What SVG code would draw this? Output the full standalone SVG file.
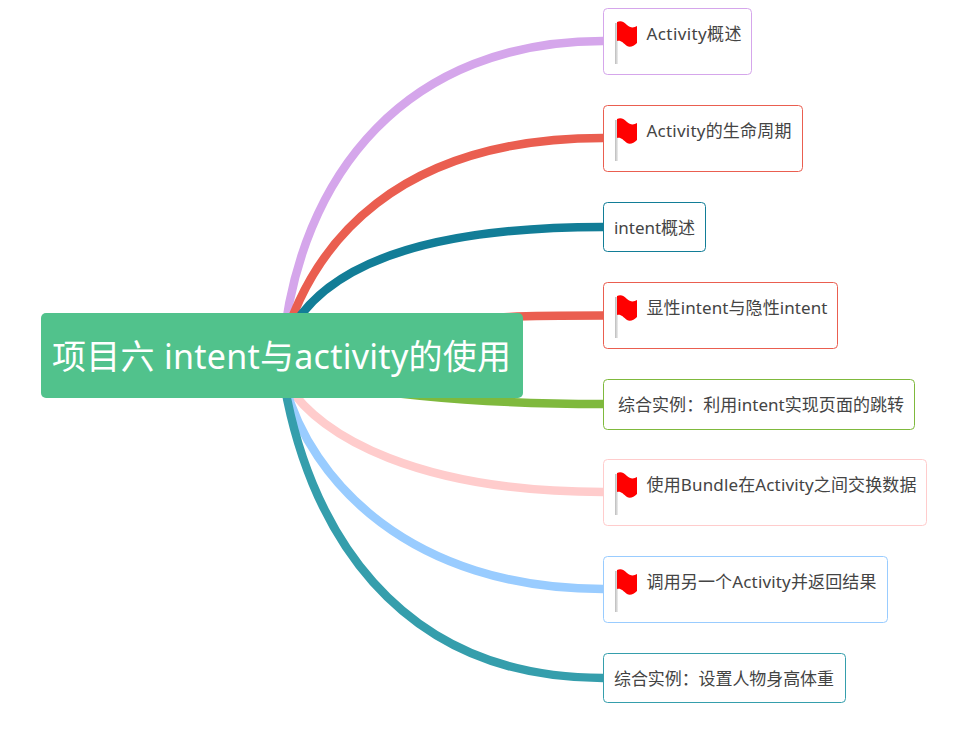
<svg xmlns="http://www.w3.org/2000/svg" xmlns:xlink="http://www.w3.org/1999/xlink" width="977" height="733" viewBox="0 0 977 733">
<style>
text{font-family:"Noto Sans","Noto Sans CJK SC",sans-serif;font-size:17px;fill:#444}
.n{fill:#fff;stroke-width:1}
.c{fill:none;stroke-width:8.500}
.root-t{font-size:34px;fill:#fff}
</style>
<defs>
<linearGradient id="pole" x1="0" x2="1" y1="0" y2="0"><stop offset="0" stop-color="#bbb"/><stop offset="1" stop-color="#eee"/></linearGradient>
<g id="flag">
<rect x="0" y="2" width="3" height="41" fill="url(#pole)"/>
<path d="M2 1C6 -1 9 1 12 4C15 7 19 7 22 5L22 22C19 25 15 27 12 25C8 22 6 19 2 20Z" fill="#f00"/>
</g>
</defs>
<rect width="977" height="733" fill="#fff"/>
<g id="connectors">
<path class="c" stroke="#d5a6eb" d="M282 355C298 170 410 41 603 41"/>
<path class="c" stroke="#ea5e50" d="M280 355C310 240 400 138 603 138"/>
<path class="c" stroke="#127d97" d="M294 325C327 272 410 227 603 227"/>
<path class="c" stroke="#ea5e50" d="M440 325C480 316 530 315.500 603 315.500"/>
<path class="c" stroke="#7fb93d" d="M340 385C410 397 500 404 603 404"/>
<path class="c" stroke="#ffcccc" d="M288 385C320 437 420 492 603 492"/>
<path class="c" stroke="#99ccff" d="M285 385C310 480 410 589 603 589"/>
<path class="c" stroke="#359eac" d="M282 370C305 525 395 678 603 678"/>
</g>
<g id="root"><rect x="41" y="313" width="482" height="85" rx="5" fill="#51c28c"/><text class="root-t" x="52" y="369" textLength="459">项目六 intent与activity的使用</text></g>
<g id="n1"><rect class="n" x="603.500" y="8.500" width="148" height="66" rx="4" stroke="#d5a6eb"/><use xlink:href="#flag" href="#flag" x="615" y="21"/><text x="646.500" y="40" textLength="95">Activity概述</text></g>
<g id="n2"><rect class="n" x="603.500" y="105.500" width="199" height="66" rx="4" stroke="#ea5e50"/><use xlink:href="#flag" href="#flag" x="615" y="118"/><text x="646.500" y="137" textLength="145">Activity的生命周期</text></g>
<g id="n3"><rect class="n" x="603.500" y="202.500" width="102" height="49" rx="4" stroke="#127d97"/><text x="614" y="234" textLength="81">intent概述</text></g>
<g id="n4"><rect class="n" x="603.500" y="282.500" width="234" height="66" rx="4" stroke="#ea5e50"/><use xlink:href="#flag" href="#flag" x="615" y="295"/><text x="646.500" y="314" textLength="181">显性intent与隐性intent</text></g>
<g id="n5"><rect class="n" x="603.500" y="379.500" width="311" height="50" rx="4" stroke="#7fb93d"/><text x="618" y="411" textLength="286">综合实例：利用intent实现页面的跳转</text></g>
<g id="n6"><rect class="n" x="603.500" y="459.500" width="323" height="66" rx="4" stroke="#ffcccc"/><use xlink:href="#flag" href="#flag" x="615" y="472"/><text x="646.500" y="491" textLength="270">使用Bundle在Activity之间交换数据</text></g>
<g id="n7"><rect class="n" x="603.500" y="556.500" width="284" height="66" rx="4" stroke="#99ccff"/><use xlink:href="#flag" href="#flag" x="615" y="569"/><text x="646.500" y="588" textLength="230">调用另一个Activity并返回结果</text></g>
<g id="n8"><rect class="n" x="603.500" y="653.500" width="242" height="49" rx="4" stroke="#359eac"/><text x="614" y="685" textLength="220">综合实例：设置人物身高体重</text></g>
</svg>
